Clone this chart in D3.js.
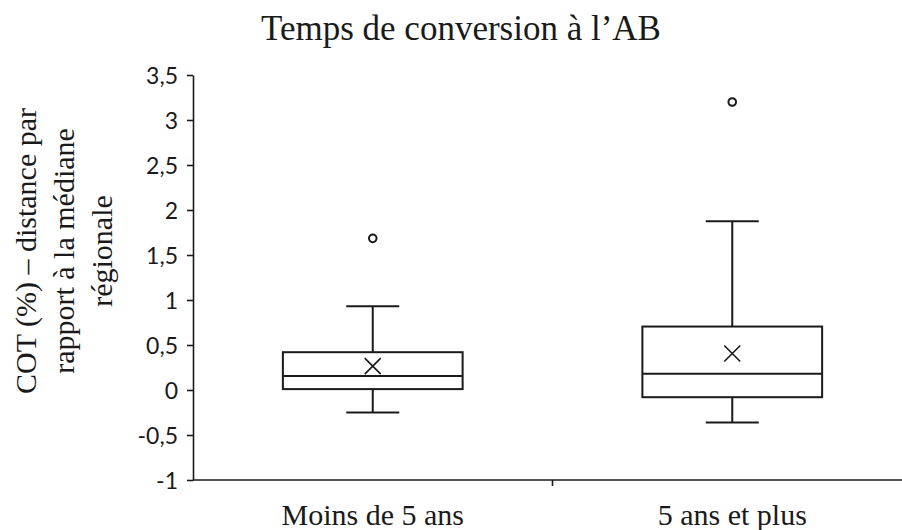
<!DOCTYPE html>
<html>
<head>
<meta charset="utf-8">
<script src="https://cdn.jsdelivr.net/npm/d3@7"></script>
<style>
  body { margin: 0; background: #fff; }
  svg { display: block; }
</style>
</head>
<body>
<svg id="chart" width="902" height="530"></svg>
<script>
// boxplot stats
const categories = ["Moins de 5 ans", "5 ans et plus"];
const whiskerLow = [-0.25, -0.36];
const q1 = [0.01, -0.08];
const medians = [0.155, 0.18];
const q3 = [0.42, 0.705];
const whiskerHigh = [0.93, 1.875];
const means = [0.265, 0.405];
const outliers = [[1.685], [3.2]];
const yTicks = [-1, -0.5, 0, 0.5, 1, 1.5, 2, 2.5, 3, 3.5];

const width = 902, height = 530;
const margin = { top: 75, right: -10, bottom: 50, left: 193 };
const ink = "#1a1a1a";
const serif = "'Liberation Serif', 'Times New Roman', serif";

const svg = d3.select("#chart");

const x = d3.scaleBand()
    .domain(categories)
    .range([margin.left, width - margin.right])
    .padding(0);

const y = d3.scaleLinear()
    .domain([-1, 3.5])
    .range([height - margin.bottom, margin.top]);

const fmt = d => String(d).replace(".", ",");

// y axis
const yAxis = svg.append("g")
    .attr("transform", `translate(${margin.left},0)`)
    .call(d3.axisLeft(y).tickValues(yTicks).tickFormat(fmt).tickSize(6).tickSizeOuter(0));
yAxis.select(".domain").attr("stroke", ink).attr("stroke-width", 1.6);
yAxis.selectAll(".tick line").attr("stroke", ink).attr("stroke-width", 1.6);
yAxis.selectAll(".tick text")
    .attr("font-family", "Lato, 'Open Sans', sans-serif")
    .attr("font-size", 23)
    .attr("fill", ink)
    .attr("x", -15)
    .attr("dy", "0.38em");

// x axis: tick between categories only
const xAxis = svg.append("g")
    .attr("transform", `translate(0,${y(-1)})`);
xAxis.append("line")
    .attr("x1", margin.left).attr("x2", width - margin.right)
    .attr("stroke", ink).attr("stroke-width", 1.6);
xAxis.selectAll(".sep")
    .data(categories.slice(1))
    .join("line")
    .attr("x1", d => x(d)).attr("x2", d => x(d))
    .attr("y1", 0).attr("y2", 6)
    .attr("stroke", ink).attr("stroke-width", 1.6);
xAxis.selectAll(".cat")
    .data(categories)
    .join("text")
    .attr("x", d => x(d) + x.bandwidth() / 2)
    .attr("y", 45)
    .attr("text-anchor", "middle")
    .attr("font-family", serif)
    .attr("font-size", 30)
    .attr("fill", ink)
    .text(d => d);

// boxes
const boxW = x.bandwidth() / 2;
const capW = 53;
const g = svg.append("g")
    .attr("stroke", ink)
    .attr("stroke-width", 2)
    .attr("fill", "none");

const boxes = g.selectAll("g.box")
    .data(categories.map((c, i) => ({ c, i })))
    .join("g")
    .attr("class", "box")
    .attr("transform", d => `translate(${x(d.c) + x.bandwidth() / 2},0)`);

// whiskers
boxes.append("line")
    .attr("x1", 0).attr("x2", 0)
    .attr("y1", d => y(q3[d.i])).attr("y2", d => y(whiskerHigh[d.i]));
boxes.append("line")
    .attr("x1", 0).attr("x2", 0)
    .attr("y1", d => y(q1[d.i])).attr("y2", d => y(whiskerLow[d.i]));
boxes.append("line")
    .attr("x1", -capW / 2).attr("x2", capW / 2)
    .attr("y1", d => y(whiskerHigh[d.i])).attr("y2", d => y(whiskerHigh[d.i]));
boxes.append("line")
    .attr("x1", -capW / 2).attr("x2", capW / 2)
    .attr("y1", d => y(whiskerLow[d.i])).attr("y2", d => y(whiskerLow[d.i]));

boxes.append("rect")
    .attr("x", -boxW / 2)
    .attr("width", boxW)
    .attr("y", d => y(q3[d.i]))
    .attr("height", d => y(q1[d.i]) - y(q3[d.i]))
    .attr("fill", "#fff");

boxes.append("line")
    .attr("x1", -boxW / 2).attr("x2", boxW / 2)
    .attr("y1", d => y(medians[d.i])).attr("y2", d => y(medians[d.i]));

// mean marker (x)
const m = 8;
boxes.append("path")
    .attr("stroke-width", 1.6)
    .attr("d", d => {
        const cy = y(means[d.i]);
        return `M${-m},${cy - m}L${m},${cy + m}M${-m},${cy + m}L${m},${cy - m}`;
    });

// outliers
boxes.selectAll("circle")
    .data(d => outliers[d.i])
    .join("circle")
    .attr("cx", 0)
    .attr("cy", v => y(v))
    .attr("r", 3.8)
    .attr("stroke-width", 2)
    .attr("fill", "#fff");

// title
svg.append("text")
    .attr("x", 461)
    .attr("y", 40)
    .attr("text-anchor", "middle")
    .attr("font-family", serif)
    .attr("font-size", 35)
    .attr("fill", ink)
    .text("Temps de conversion à l’AB");

// y label, three lines
const yLabel = ["COT (%) – distance par", "rapport à la médiane", "régionale"];
svg.append("text")
    .attr("transform", `translate(36,251) rotate(-90)`)
    .attr("text-anchor", "middle")
    .attr("font-family", serif)
    .attr("font-size", 30)
    .attr("fill", ink)
    .selectAll("tspan")
    .data(yLabel)
    .join("tspan")
    .attr("x", 0)
    .attr("dy", (d, i) => i === 0 ? 0 : 38)
    .text(d => d);
</script>
</body>
</html>
